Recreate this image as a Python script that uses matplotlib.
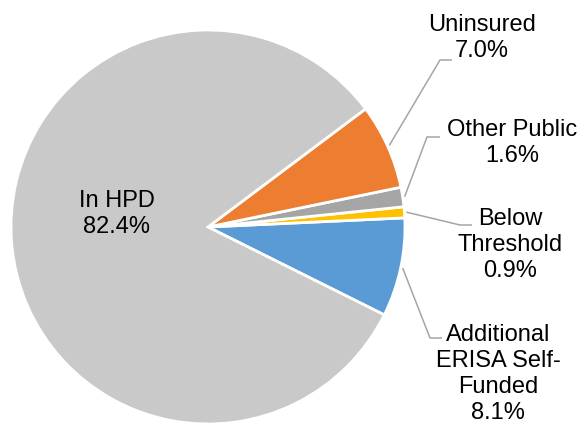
import math
import matplotlib.pyplot as plt

plt.rcParams['font.family'] = ['Liberation Sans', 'DejaVu Sans']

# data, counterclockwise from the first slice
labels = ['Additional\nERISA Self-\nFunded', 'Below\nThreshold', 'Other Public', 'Uninsured', 'In HPD']
shares = [8.1, 0.9, 1.6, 7.0, 82.4]
colors = ['#5B9BD5', '#FFC000', '#A5A5A5', '#ED7D31', '#C9C9C9']

W, H = 581, 426
fig = plt.figure(figsize=(W / 100, H / 100), dpi=100)
ax = fig.add_axes([0, 0, 1, 1])

cx, cy, r = 208, H - 227, 197
wedges, _ = ax.pie(shares, colors=colors, startangle=-26.5, counterclock=True,
                   center=(cx, cy), radius=r, frame=True,
                   wedgeprops=dict(edgecolor='white', linewidth=2))
ax.set_xlim(0, W)
ax.set_ylim(0, H)
ax.axis('off')

# label placement in image pixels: text centre, elbow, line end
places = [
    ((498, 374), (430, 338), (442, 338)),
    ((510, 245), (460, 225), (472, 225)),
    ((512, 143), (427, 137), (440, 137)),
    ((482, 38), (440, 60), (452, 60)),
]

for i, w in enumerate(wedges):
    txt = f"{labels[i]}\n{shares[i]:.1f}%"
    if i == 4:
        ax.text(117, H - 214, txt, ha='center', va='center', fontsize=17,
                linespacing=1.22)
        continue
    (tx, ty), (ex, ey), (lx, ly) = places[i]
    mid = math.radians((w.theta1 + w.theta2) / 2)
    sx = cx + r * 1.01 * math.cos(mid)
    sy = cy + r * 1.01 * math.sin(mid)
    ax.plot([sx, ex, lx], [sy, H - ey, H - ly], color='#A5A5A5', lw=1.1,
            solid_capstyle='butt')
    ax.text(tx, H - ty, txt, ha='center', va='center', fontsize=17,
            linespacing=1.22)

fig.savefig('out.png', dpi=100)
